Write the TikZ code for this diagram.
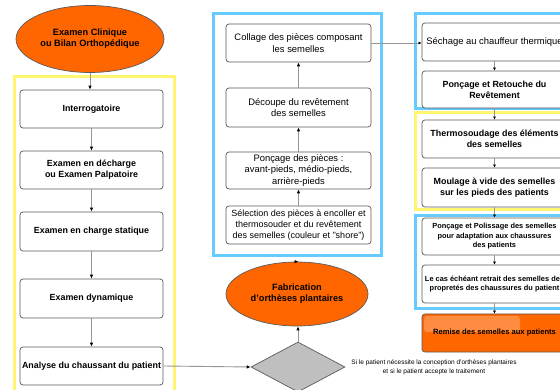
\documentclass[tikz,border=0pt]{standalone}
\usepackage{fontspec}
\setmainfont{Liberation Sans}
\usetikzlibrary{arrows.meta,shapes.geometric}
\definecolor{orng}{RGB}{255,102,0}
\definecolor{ylw}{RGB}{255,245,110}
\definecolor{blu}{RGB}{102,204,255}
\definecolor{bdr}{RGB}{90,90,90}
\definecolor{conn}{RGB}{150,150,150}
\begin{document}
\begin{tikzpicture}[x=1pt,y=-1pt,
  box/.style={draw=bdr, line width=0.7pt, fill=white, rounded corners=3pt, inner sep=0pt,
    align=center, font=\fontsize{8.9}{11}\selectfont\bfseries},
  mbox/.style={box, font=\fontsize{9.4}{11.2}\selectfont},
  sbox/.style={box, font=\fontsize{7.4}{9.5}\selectfont\bfseries},
  oval/.style={ellipse, draw=bdr, line width=0.7pt, fill=orng, inner sep=0pt,
    align=center, font=\fontsize{9.2}{11}\selectfont\bfseries},
  frameY/.style={draw=ylw, line width=3pt},
  frameB/.style={draw=blu, line width=3pt},
  link/.style={draw=conn, line width=0.9pt, -{Latex[color=black,length=4pt,width=3.5pt]}},
  slink/.style={draw=conn, line width=0.6pt, -{Latex[color=black,length=3pt,width=3pt]}}
]
\clip (0,0) rectangle (560,390);
\fill[white] (0,0) rectangle (560,390);
% frames
\draw[frameY] (14,77) rectangle (174,400);
\draw[frameB] (213,14) rectangle (381,256);
\draw[frameB] (415,14) rectangle (575,109);
\draw[frameY] (415,113) rectangle (575,210);
\draw[frameB] (415,216) rectangle (575,309);
% left column
\node[oval, minimum width=148pt, minimum height=67pt] (clin) at (90,39) {Examen Clinique\\ou Bilan Orthopédique};
\node[box, minimum width=143pt, minimum height=38pt] (int) at (91.5,109) {Interrogatoire};
\node[box, minimum width=143pt, minimum height=38pt] (dech) at (91.5,170) {Examen en décharge\\ou Examen Palpatoire};
\node[box, minimum width=143pt, minimum height=39pt] (stat) at (91.5,231.5) {Examen en charge statique};
\node[box, minimum width=143pt, minimum height=39pt] (dyn) at (91.5,298.5) {Examen dynamique};
\node[box, minimum width=143pt, minimum height=38pt] (ana) at (91.5,366) {Analyse du chaussant du patient};
% middle column
\node[mbox, minimum width=145pt, minimum height=38pt] (coll) at (298.5,43) {Collage des pièces composant\\les semelles};
\node[mbox, minimum width=145pt, minimum height=39pt] (dec) at (298.5,107.5) {Découpe du revêtement\\des semelles};
\node[mbox, minimum width=145pt, minimum height=37pt] (ponc) at (298.5,170.5) {Ponçage des pièces :\\avant-pieds, médio-pieds,\\arrière-pieds};
\node[mbox, minimum width=145pt, minimum height=38pt, font=\fontsize{9}{11.2}\selectfont] (sel) at (298.5,225) {Sélection des pièces à encoller et\\thermosouder et du revêtement\\des semelles (couleur et ''shore'')};
\node[oval, minimum width=142pt, minimum height=64pt] (fab) at (297,294) {Fabrication\\d'orthèses plantaires};
\node[diamond, draw=bdr, line width=0.7pt, fill=black!25, inner sep=0pt, minimum width=94pt, minimum height=50pt] (dia) at (298,367) {};
\node[align=center, font=\fontsize{6.5}{9}\selectfont, inner sep=0pt] (cond) at (434,367.5) {Si le patient nécessite la conception d'orthèses plantaires\\et si le patient accepte le traitement};
% right column
\node[mbox, minimum width=145pt, minimum height=38pt] (sech) at (494.5,42) {Séchage au chauffeur thermique};
\node[box, minimum width=145pt, minimum height=37pt] (ret) at (494.5,89.5) {Ponçage et Retouche du\\Revêtement};
\node[box, minimum width=145pt, minimum height=38pt] (therm) at (494.5,139) {Thermosoudage des éléments\\des semelles};
\node[box, minimum width=145pt, minimum height=39pt] (moul) at (494.5,187.5) {Moulage à vide des semelles\\sur les pieds des patients};
\node[sbox, minimum width=145pt, minimum height=37pt] (pol) at (494.5,236.5) {Ponçage et Polissage des semelles\\pour adaptation aux chaussures\\des patients};
\node[sbox, minimum width=145pt, minimum height=38pt] (cas) at (494.5,284) {Le cas échéant retrait des semelles des\\propretés des chaussures du patient};
\node[sbox, fill=orng, minimum width=145pt, minimum height=38pt] (rem) at (494.5,333) {};
\fill[white, opacity=0.25, rounded corners=3pt] (424,316) rectangle (520,332);
\node[font=\fontsize{7.6}{9.5}\selectfont\bfseries] (remt) at (rem.center) {Remise des semelles aux patients};
% connectors
\draw[link] (clin.south) -- (clin.south |- int.north);
\draw[link] (int) -- (dech);
\draw[link] (dech) -- (stat);
\draw[link] (stat) -- (dyn);
\draw[link] (dyn) -- (ana);
\draw[link] (ana.east) -- (dia.west);
\draw[link] (dia.north) -- (dia.north |- fab.south);
\draw[link] (fab.north) -- (fab.north -| sel.south);
\draw[link] (sel) -- (ponc);
\draw[link] (ponc) -- (dec);
\draw[link] (dec) -- (coll);
\draw[slink] (coll.east) -- (coll.east -| sech.west);
\draw[slink] (sech) -- (ret);
\draw[slink] (ret) -- (therm);
\draw[slink] (therm) -- (moul);
\draw[slink] (moul) -- (pol);
\draw[slink] (pol) -- (cas);
\draw[slink] (cas) -- (rem);
\end{tikzpicture}
\end{document}
